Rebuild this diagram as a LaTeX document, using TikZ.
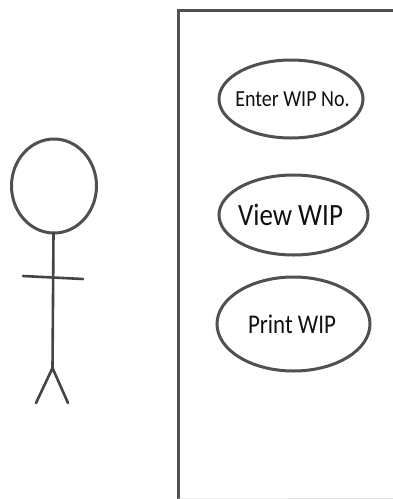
\documentclass[tikz,border=0pt]{standalone}
\usepackage{graphicx}
\usepackage{fontspec}
\setmainfont{Carlito}
\usetikzlibrary{shapes.geometric}
\definecolor{ink}{HTML}{505050}
\definecolor{txt}{HTML}{101010}
\newcommand{\narrowtext}[3]{\makebox[0pt]{\hspace*{#3}\scalebox{#1}[1]{#2}}}
\tikzset{
  x=1pt,y=-1pt,
  line/.style={draw=ink,line width=3pt,line cap=round},
  usecase/.style={ellipse,draw=ink,line width=3pt,inner sep=0pt,text=txt},
  limb/.style={draw=ink!85!black,line width=2.6pt,line cap=round}
}
\begin{document}
\begin{tikzpicture}
\useasboundingbox (0,0) rectangle (393,499);
\coordinate (tr) at (393,10);
\coordinate (tl) at (178,10);
\coordinate (bl) at (178,499);
\draw[line,line cap=butt] (tr) -- (tl) -- (bl);
\draw[draw=black!12,line width=1pt] (bl) -- (393,498.5);
\node[usecase,minimum width=144pt,minimum height=78pt,font=\fontsize{23}{24}\selectfont] (enter) at (291,99) {\narrowtext{0.87}{Enter WIP No.}{3pt}};
\node[usecase,minimum width=149pt,minimum height=80pt,font=\fontsize{31}{34}\selectfont] (view) at (293.5,215) {\narrowtext{0.87}{View WIP}{-6pt}};
\node[usecase,minimum width=153pt,minimum height=94pt,font=\fontsize{27}{28}\selectfont] (print) at (293.5,324) {\narrowtext{0.85}{Print WIP}{-3pt}};
\node[ellipse,draw=ink,line width=3pt,minimum width=85pt,minimum height=94pt,inner sep=0pt] (head) at (54,186) {};
\coordinate (neck) at (53.5,233);
\coordinate (hip) at (52.5,368);
\coordinate (armL) at (23,276);
\coordinate (armR) at (83,279);
\coordinate (footL) at (36,403);
\coordinate (footR) at (68,403);
\draw[limb] (neck) -- (hip);
\draw[limb] (armL) -- (armR);
\draw[limb] (footL) -- (hip) -- (footR);
\end{tikzpicture}
\end{document}
